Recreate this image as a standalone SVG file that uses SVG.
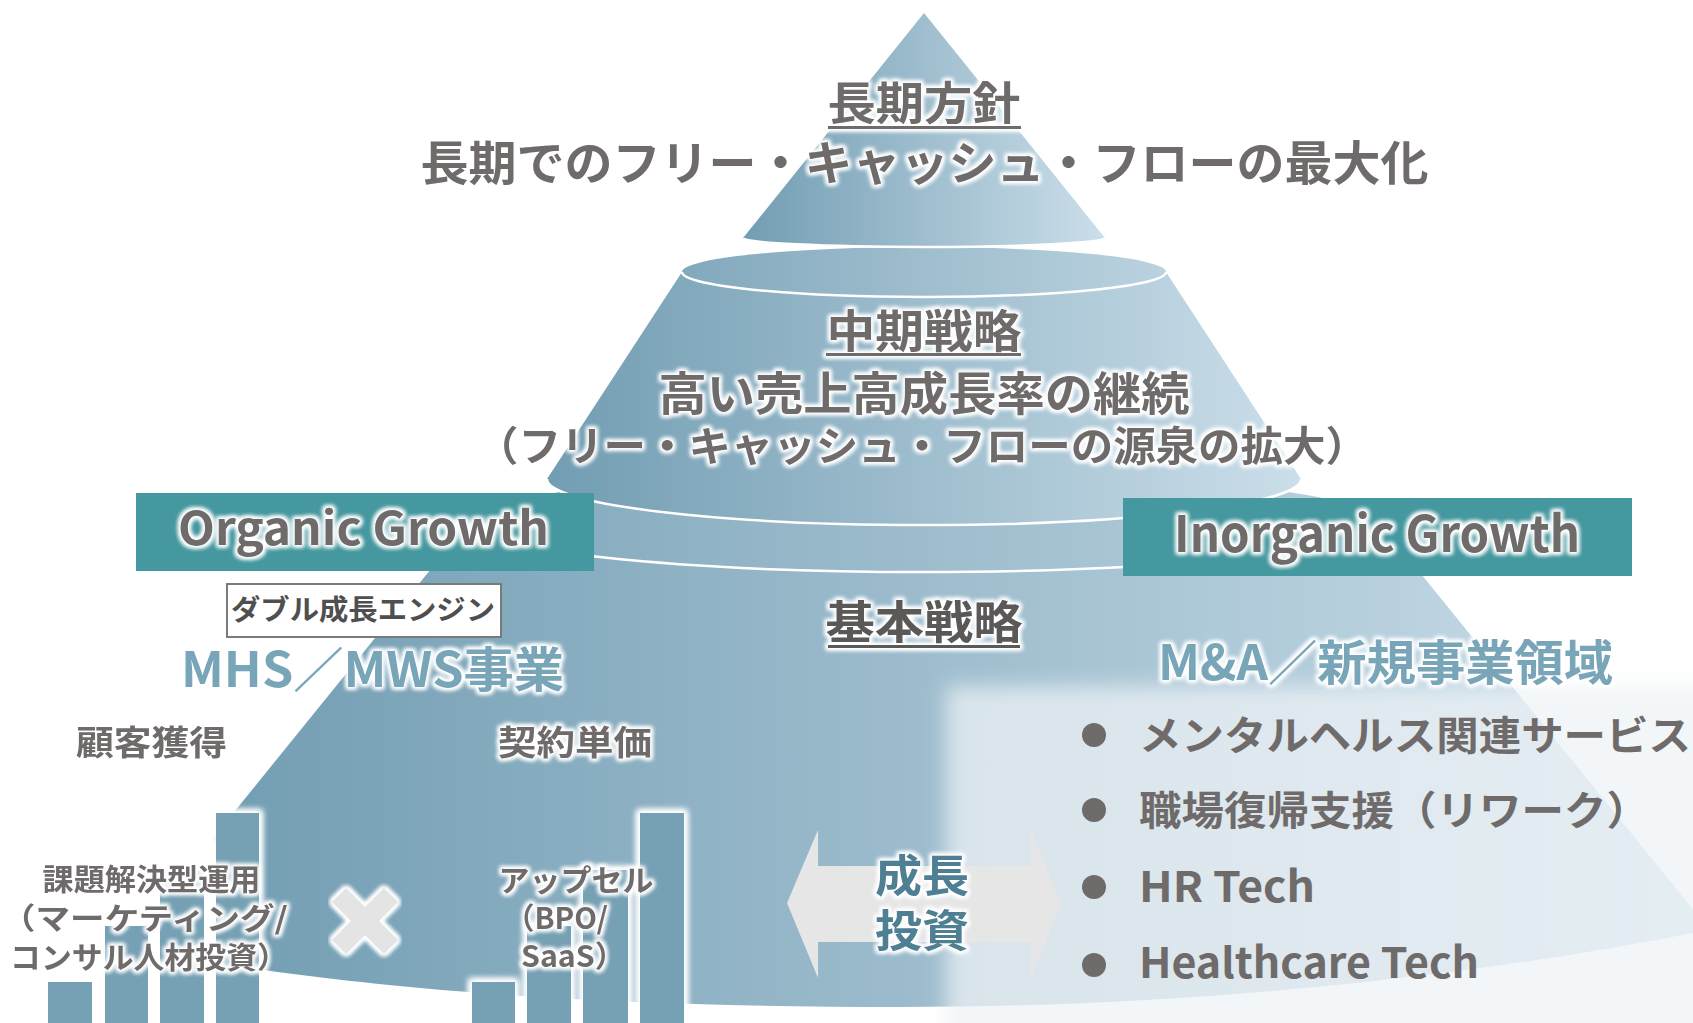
<svg xmlns="http://www.w3.org/2000/svg" width="1693" height="1023" viewBox="0 0 1693 1023">
<defs>
<linearGradient id="cone" x1="0" y1="0" x2="1" y2="0">
<stop offset="0" stop-color="#729db2"/>
<stop offset="1" stop-color="#cbdeea"/>
</linearGradient>
<linearGradient id="coneB" gradientUnits="userSpaceOnUse" x1="200" y1="0" x2="1700" y2="0">
<stop offset="0" stop-color="#729db2"/>
<stop offset="1" stop-color="#cbdeea"/>
</linearGradient>
<filter id="glow" x="-20%" y="-50%" width="140%" height="200%" color-interpolation-filters="sRGB">
<feMorphology in="SourceAlpha" operator="dilate" radius="2" result="d"/>
<feGaussianBlur in="d" stdDeviation="2" result="b"/>
<feFlood flood-color="#ffffff"/>
<feComposite in2="b" operator="in" result="w"/>
<feMerge><feMergeNode in="w"/><feMergeNode in="w"/><feMergeNode in="SourceGraphic"/></feMerge>
</filter>
<filter id="barglow" x="-40%" y="-20%" width="180%" height="140%" color-interpolation-filters="sRGB">
<feMorphology in="SourceAlpha" operator="dilate" radius="3" result="d"/>
<feGaussianBlur in="d" stdDeviation="3" result="b"/>
<feFlood flood-color="#ffffff"/>
<feComposite in2="b" operator="in" result="w"/>
<feMerge><feMergeNode in="w"/><feMergeNode in="w"/><feMergeNode in="SourceGraphic"/></feMerge>
</filter>
<filter id="soft" x="-10%" y="-20%" width="120%" height="140%">
<feGaussianBlur stdDeviation="10"/>
</filter>
<style>
.t{font-family:"Noto Sans CJK JP","Noto Sans",sans-serif;font-weight:700;fill:#6f6b6a}
.c{text-anchor:middle}
.blue{fill:#79a5b8}
.dark{fill:#5b5858}
.wl{fill:none;stroke:#ffffff;stroke-width:2.5}
.tier{fill:url(#cone)}
.bar{fill:#76a0b4}
.gbox{fill:#45989f}
.ul{fill:#6f6b6a}
.bul{fill:#6f6b6a}
</style>
</defs>
<rect width="1693" height="1023" fill="#ffffff"/>

<g id="pyramid">
<path fill="url(#coneB)" d="M469 522 A455 50 0 0 1 1379 522 L1712 933 L1693 933 C1480 975 1200 1007 900 1007 C620 1007 420 992 264 970 C250 930 232 880 213 838 Z"/>
<path class="wl" d="M469 522 A455 50 0 0 0 1379 522"/>
<path class="tier" d="M682 272 A242 25 0 0 1 1166 272 L1301 479 A377 46 0 0 1 547 479 Z"/>
<path class="wl" d="M547 479 A377 46 0 0 0 1301 479"/>
<path class="wl" d="M682 272 A242 25 0 0 0 1166 272"/>
<path class="tier" d="M924 13 L1105 238 A181 9 0 0 1 743 238 Z"/>
<path class="wl" d="M743 238 A181 9 0 0 0 1105 238"/>
</g>

<g id="panel">
<rect x="946" y="686" width="800" height="400" fill="#eef3f6" opacity="0.74" filter="url(#soft)"/>
</g>

<g id="long-term" filter="url(#glow)">
<text class="t c" x="924" y="120" font-size="45" textLength="193" lengthAdjust="spacingAndGlyphs">長期方針</text>
<rect class="ul" x="828" y="126" width="193" height="3"/>
<text class="t c" x="924.5" y="180" font-size="47" textLength="1008" lengthAdjust="spacingAndGlyphs">長期でのフリー・キャッシュ・フローの最大化</text>
</g>

<g id="mid-term" filter="url(#glow)">
<text class="t c" x="924" y="348" font-size="45" textLength="195" lengthAdjust="spacingAndGlyphs">中期戦略</text>
<rect class="ul" x="826" y="353" width="195" height="3"/>
<text class="t c" x="924" y="410" font-size="46" textLength="531" lengthAdjust="spacingAndGlyphs">高い売上高成長率の継続</text>
<text class="t c" x="922" y="461" font-size="41" textLength="892" lengthAdjust="spacingAndGlyphs">（フリー・キャッシュ・フローの源泉の拡大）</text>
</g>

<g id="basic" filter="url(#glow)">
<text class="t c dark" x="924" y="639" font-size="45" textLength="197" lengthAdjust="spacingAndGlyphs">基本戦略</text>
<rect x="828" y="645" width="192" height="3" fill="#5b5858"/>
</g>

<g id="organic">
<rect class="gbox" x="136" y="493" width="458" height="78"/>
<text class="t c" x="363.5" y="545" font-size="46" textLength="371" lengthAdjust="spacingAndGlyphs" filter="url(#glow)">Organic Growth</text>
</g>

<g id="inorganic">
<rect class="gbox" x="1123" y="498" width="509" height="78"/>
<text class="t c" x="1377" y="552" font-size="50" textLength="406" lengthAdjust="spacingAndGlyphs" filter="url(#glow)">Inorganic Growth</text>
</g>

<g id="double-engine">
<rect x="227" y="584" width="274" height="53" fill="#ffffff" stroke="#7a7a7a" stroke-width="2"/>
<text class="t c" x="363" y="620" font-size="28" textLength="264" lengthAdjust="spacingAndGlyphs" style="fill:#4f4f4f">ダブル成長エンジン</text>
</g>

<g id="mhs" filter="url(#glow)">
<text class="t c blue" x="372.5" y="687" font-size="48" textLength="383" lengthAdjust="spacingAndGlyphs">MHS／MWS事業</text>
</g>

<g id="ma" filter="url(#glow)">
<text class="t c blue" x="1385.5" y="680" font-size="48" textLength="455" lengthAdjust="spacingAndGlyphs">M&amp;A／新規事業領域</text>
</g>

<g id="factors" filter="url(#glow)">
<text class="t c" x="151.5" y="755" font-size="34" textLength="151" lengthAdjust="spacingAndGlyphs">顧客獲得</text>
<text class="t c" x="575" y="755" font-size="34" textLength="154" lengthAdjust="spacingAndGlyphs">契約単価</text>
</g>

<g id="bars-left" filter="url(#barglow)">
<rect class="bar" x="48" y="982" width="44" height="60"/>
<rect class="bar" x="105" y="926" width="43" height="110"/>
<rect class="bar" x="160" y="870" width="44" height="170"/>
<rect class="bar" x="216" y="813" width="43" height="230"/>
</g>

<g id="bars-right" filter="url(#barglow)">
<rect class="bar" x="472" y="982" width="43" height="60"/>
<rect class="bar" x="527" y="926" width="44" height="110"/>
<rect class="bar" x="583" y="870" width="45" height="170"/>
<rect class="bar" x="640" y="813" width="44" height="230"/>
</g>

<g id="label-left" filter="url(#glow)">
<text class="t c" x="151.5" y="890" font-size="30" textLength="218" lengthAdjust="spacingAndGlyphs">課題解決型運用</text>
<text class="t" x="1" y="929" font-size="30" textLength="287" lengthAdjust="spacingAndGlyphs">（マーケティング/</text>
<text class="t" x="10" y="968" font-size="30" textLength="278" lengthAdjust="spacingAndGlyphs">コンサル人材投資）</text>
</g>

<g id="times" filter="url(#glow)">
<path d="M339 895 L391 947 M391 895 L339 947" stroke="#e4e4e4" stroke-width="20" fill="none"/>
</g>

<g id="label-right" filter="url(#glow)">
<text class="t c" x="576" y="891" font-size="30" textLength="155" lengthAdjust="spacingAndGlyphs">アップセル</text>
<text class="t" x="505" y="929" font-size="30" textLength="103" lengthAdjust="spacingAndGlyphs">（BPO/</text>
<text class="t" x="521" y="967" font-size="30" textLength="104" lengthAdjust="spacingAndGlyphs">SaaS）</text>
</g>

<g id="connectors">
<polygon points="787,903 818,830 818,866 1031,866 1031,830 1061,903 1031,978 1031,942 818,942 818,978" fill="#e6e6e6"/>
</g>

<g id="growth-invest" filter="url(#glow)">
<text class="t c" x="922" y="892" font-size="44" textLength="94" lengthAdjust="spacingAndGlyphs" style="fill:#4e7f93">成長</text>
<text class="t c" x="922" y="947" font-size="44" textLength="94" lengthAdjust="spacingAndGlyphs" style="fill:#4e7f93">投資</text>
</g>

<g id="bullets">
<circle class="bul" cx="1094" cy="735" r="12"/>
<text class="t" x="1139" y="750" font-size="40" textLength="552" lengthAdjust="spacingAndGlyphs">メンタルヘルス関連サービス</text>
<circle class="bul" cx="1094" cy="810" r="12"/>
<text class="t" x="1139" y="825" font-size="40" textLength="510" lengthAdjust="spacingAndGlyphs">職場復帰支援（リワーク）</text>
<circle class="bul" cx="1094" cy="887" r="12"/>
<text class="t" x="1139" y="902" font-size="42" textLength="176" lengthAdjust="spacingAndGlyphs">HR Tech</text>
<circle class="bul" cx="1094" cy="965" r="12"/>
<text class="t" x="1139" y="978" font-size="42" textLength="340" lengthAdjust="spacingAndGlyphs">Healthcare Tech</text>
</g>
</svg>
